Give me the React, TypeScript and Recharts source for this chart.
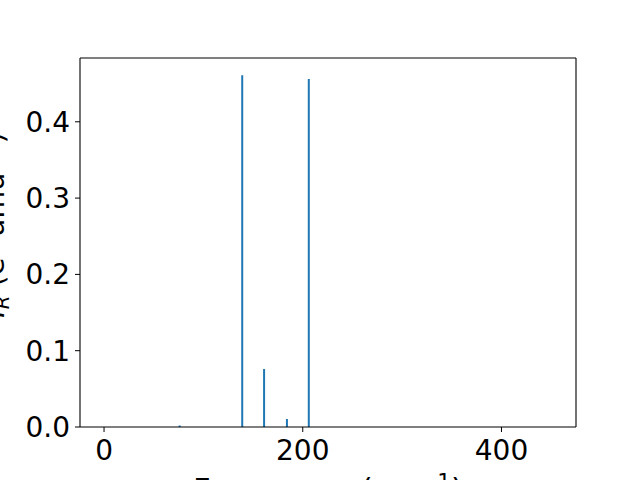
import React from 'react';
import { ComposedChart, Bar, XAxis, YAxis } from 'recharts';

const frequencies = [76, 139, 161, 184, 206];
const intensities = [0.002, 0.461, 0.076, 0.0105, 0.456];
const xTicks = [0, 200, 400];
const yTicks = [0, 0.1, 0.2, 0.3, 0.4];

const data = frequencies.map((f, i) => ({ freq: f, ir: intensities[i] }));

const FONT = 'DejaVu Sans';
const FS = 28;
const LFS = 30.6;
const YFS = 28.5;

const YLabel = () => {
  const cx = 4;
  const cy = 225;
  return (
    <text
      x={cx}
      y={cy}
      transform={`rotate(-90 ${cx} ${cy})`}
      textAnchor="middle"
      fontFamily={FONT}
      fontSize={YFS}
      fill="#000"
    >
      <tspan fontStyle="italic">I</tspan>
      <tspan fontStyle="italic" fontSize={YFS * 0.7} dy={5}>R</tspan>
      <tspan dy={-5}> (e</tspan>
      <tspan fontSize={YFS * 0.7} dy={-11}>2</tspan>
      <tspan dy={11}> amu</tspan>
      <tspan fontSize={YFS * 0.7} dy={-11}>−1</tspan>
      <tspan dy={11}>)</tspan>
    </text>
  );
};

const XLabel = () => (
  <text x={328} y={500} textAnchor="middle" fontFamily={FONT} fontSize={LFS} fill="#000">
    Frequency (cm
    <tspan fontSize={LFS * 0.7} dy={-11}>−1</tspan>
    <tspan dy={11}>)</tspan>
  </text>
);

export default function App() {
  return (
    <div style={{ position: 'absolute', left: 0, top: 0, width: 640, height: 480, background: '#fff' }}>
      <ComposedChart
        width={640}
        height={480}
        data={data}
        margin={{ top: 57, right: 63, left: 0, bottom: 0 }}
      >
        <XAxis
          xAxisId="b"
          dataKey="freq"
          type="number"
          domain={[-24.2, 475]}
          ticks={xTicks}
          allowDataOverflow
          height={53}
          tickSize={5}
          tickMargin={8}
          stroke="#000"
          axisLine={{ stroke: '#000', strokeWidth: 1.1 }}
          tickLine={{ stroke: '#000' }}
          tick={{ fill: '#000', fontFamily: FONT, fontSize: FS }}
          label={<XLabel />}
        />
        <XAxis
          xAxisId="t"
          orientation="top"
          dataKey="freq"
          type="number"
          domain={[-24.2, 475]}
          height={1}
          tick={false}
          tickLine={false}
          axisLine={{ stroke: '#000', strokeWidth: 1.1 }}
        />
        <YAxis
          yAxisId="l"
          type="number"
          domain={[0, 0.4836]}
          ticks={yTicks}
          allowDataOverflow
          width={80}
          tickSize={5}
          tickMargin={5}
          tickFormatter={(v: number) => v.toFixed(1)}
          axisLine={{ stroke: '#000', strokeWidth: 1.1 }}
          tickLine={{ stroke: '#000' }}
          tick={{ fill: '#000', fontFamily: FONT, fontSize: FS }}
          label={<YLabel />}
        />
        <YAxis
          yAxisId="r"
          orientation="right"
          type="number"
          domain={[0, 0.4836]}
          width={1}
          tick={false}
          tickLine={false}
          axisLine={{ stroke: '#000', strokeWidth: 1.1 }}
        />
        <Bar
          xAxisId="b"
          yAxisId="l"
          dataKey="ir"
          fill="#1f77b4"
          barSize={2}
          isAnimationActive={false}
        />
      </ComposedChart>
    </div>
  );
}
